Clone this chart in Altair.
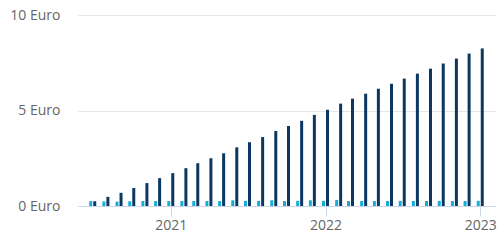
import altair as alt
import pandas as pd

months = pd.date_range("2020-07-01", "2023-01-01", freq="MS").strftime("%Y-%m-%d").tolist()
monthly = [0.25, 0.24, 0.23, 0.25, 0.26, 0.26, 0.26, 0.26, 0.26, 0.26, 0.26, 0.30,
           0.27, 0.27, 0.30, 0.26, 0.27, 0.30, 0.27, 0.32, 0.26, 0.26, 0.26, 0.26,
           0.27, 0.26, 0.26, 0.27, 0.26, 0.26, 0.27]
cumulative = [0.25, 0.48, 0.69, 0.94, 1.20, 1.46, 1.72, 1.98, 2.24, 2.50, 2.76, 3.07,
              3.34, 3.61, 3.93, 4.19, 4.46, 4.77, 5.04, 5.36, 5.62, 5.88, 6.14, 6.40,
              6.67, 6.93, 7.19, 7.46, 7.72, 7.98, 8.25]

df = pd.DataFrame({"date": months, "monthly": monthly, "cumulative": cumulative})

font = "Open Sans"
xscale = alt.Scale(type="utc",
                   domain=[alt.DateTime(year=2020, month=6, date=8, utc=True),
                           alt.DateTime(year=2023, month=1, date=24, utc=True)])
yscale = alt.Scale(domain=[0, 10], nice=False)

xaxis = alt.Axis(
    title=None,
    values=[alt.DateTime(year=y, month=1, date=1, utc=True) for y in (2021, 2022, 2023)],
    format="%Y",
    grid=False,
    domainColor="#ccd6eb",
    tickColor="#ccd6eb",
    tickSize=10,
    labelPadding=2,
    labelFont=font,
    labelFontSize=14,
    labelColor="#666666",
)
yaxis = alt.Axis(
    title=None,
    values=[0, 5, 10],
    labelExpr="datum.value + ' Euro'",
    domain=False,
    ticks=False,
    grid=True,
    gridColor="#e6e6e6",
    labelPadding=18,
    labelFont=font,
    labelFontSize=14,
    labelColor="#666666",
)

base = alt.Chart(df)
light = base.mark_bar(size=3, xOffset=-2, color="#16acd8").encode(
    x=alt.X("date:T", scale=xscale, axis=xaxis),
    y=alt.Y("monthly:Q", scale=yscale, axis=yaxis),
)
dark = base.mark_bar(size=3, xOffset=2, color="#0b3760").encode(
    x=alt.X("date:T", scale=xscale, axis=xaxis),
    y=alt.Y("cumulative:Q", scale=yscale, axis=yaxis),
)

chart = alt.layer(light, dark).properties(
    width=417, height=191,
    background="white",
    autosize=alt.AutoSizeParams(type="none"),
    padding={"left": 78, "top": 15, "right": 5, "bottom": 34},
).configure_view(strokeWidth=0)

chart.save("out.html", embed_options={"renderer": "svg", "actions": False})
